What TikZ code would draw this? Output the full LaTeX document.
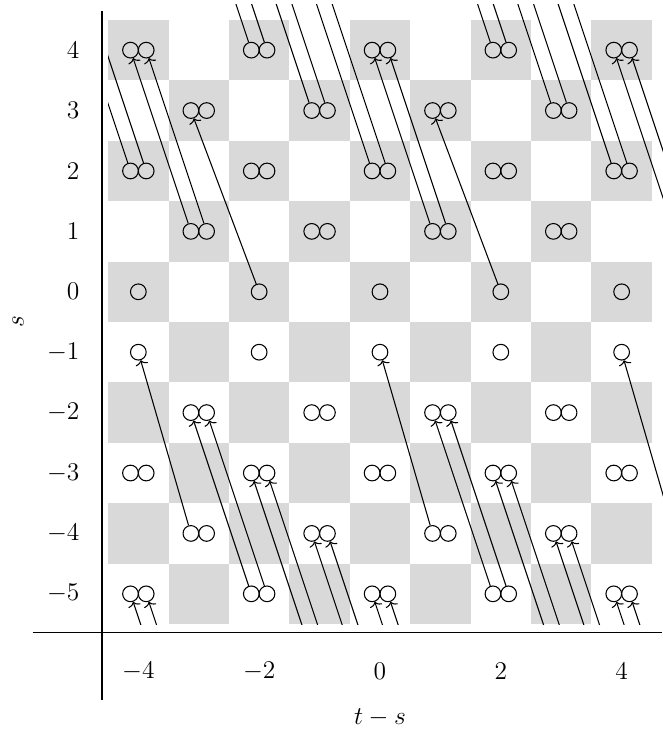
\documentclass[tikz,border=0pt]{standalone}
\usetikzlibrary{arrows.meta}
\begin{document}
\begin{tikzpicture}[x=1cm,y=1cm,
  cell/.style={fill=black!15},
  dot/.style={circle, draw, line width=0.5pt, inner sep=0pt, minimum size=0.26cm},
  link/.style={line width=0.5pt, -{To[length=2.2pt,width=6pt]}},
  axisline/.style={line width=0.6pt},
  ticklab/.style={font=\large, inner sep=0pt},
]
\useasboundingbox (-6.29,-7.32) rectangle (4.67,4.83);
% checkerboard
\foreach \c in {-4,...,4} \foreach \s in {-5,...,4} {
  \pgfmathtruncatemacro{\myparity}{mod(\c+\s+20,2)}
  \ifnum\myparity=0 \fill[cell] (\c-0.5,\s-0.5) rectangle (\c+0.5,\s+0.5); \fi
}
% double circles
\foreach \c/\s in {-4/4,-2/4,0/4,2/4,4/4, -3/3,-1/3,1/3,3/3, -4/2,-2/2,0/2,2/2,4/2,
  -3/1,-1/1,1/1,3/1, -3/-2,-1/-2,1/-2,3/-2, -4/-3,-2/-3,0/-3,2/-3,4/-3,
  -3/-4,-1/-4,1/-4,3/-4, -4/-5,-2/-5,0/-5,2/-5,4/-5} {
  \node[dot] (L\c_\s) at (\c-0.13,\s) {};
  \node[dot] (R\c_\s) at (\c+0.13,\s) {};
}
% single circles
\foreach \c in {-4,-2,0,2,4} \foreach \s in {0,-1} {
  \node[dot] (S\c_\s) at (\c,\s) {};
}
% off-grid end points
\foreach \c/\s in {-3/-8,1/-8,5/-8,0/-7,4/-7,-1/-6,3/-6,5/1,-5/5,-1/5,3/5,-2/6,2/6,-3/7,1/7} {
  \coordinate (L\c_\s) at (\c-0.13,\s);
  \coordinate (R\c_\s) at (\c+0.13,\s);
}
\coordinate (L5_-4) at (4.87,-4);
% connectors
\begin{scope}
\clip (-4.5,-5.5) rectangle (5.2,4.75);
\foreach \p in {L,R} {
  \draw[link] (\p-2_-5) -- (\p-3_-2);
  \draw[link] (\p2_-5) -- (\p1_-2);
  \draw[link] (\p-3_-8) -- (\p-4_-5);
  \draw[link] (\p1_-8) -- (\p0_-5);
  \draw[link] (\p5_-8) -- (\p4_-5);
  \draw[link] (\p0_-7) -- (\p-1_-4);
  \draw[link] (\p4_-7) -- (\p3_-4);
  \draw[link] (\p-1_-6) -- (\p-2_-3);
  \draw[link] (\p3_-6) -- (\p2_-3);
  \draw[link] (\p-3_1) -- (\p-4_4);
  \draw[link] (\p1_1) -- (\p0_4);
  \draw[link] (\p5_1) -- (\p4_4);
  \draw[link] (\p-4_2) -- (\p-5_5);
  \draw[link] (\p0_2) -- (\p-1_5);
  \draw[link] (\p4_2) -- (\p3_5);
  \draw[link] (\p-1_3) -- (\p-2_6);
  \draw[link] (\p3_3) -- (\p2_6);
  \draw[link] (\p-2_4) -- (\p-3_7);
  \draw[link] (\p2_4) -- (\p1_7);
}
\draw[link] (L-3_-4) -- (S-4_-1);
\draw[link] (L1_-4) -- (S0_-1);
\draw[link] (L5_-4) -- (S4_-1);
\draw[link] (S-2_0) -- (L-3_3);
\draw[link] (S2_0) -- (L1_3);
\end{scope}
% axes
\coordinate (ytop) at (-4.6,4.64);
\coordinate (ybot) at (-4.6,-6.75);
\coordinate (xleft) at (-5.75,-5.64);
\coordinate (xright) at (4.67,-5.64);
\draw[axisline] (ytop) -- (ybot);
\draw[axisline] (xleft) -- (xright);
\foreach \s in {4,3,...,-5} \node[ticklab, anchor=east] (ys\s) at (-4.97,\s) {$\s$};
\foreach \c in {-4,-2,0,2,4} \node[ticklab] (xt\c) at (\c,-6.29) {$\c$};
\node[font=\large, rotate=90] (ylab) at (-5.99,-0.5) {$s$};
\node[font=\large] (xlab) at (0,-7.05) {$t-s$};
\end{tikzpicture}
\end{document}
